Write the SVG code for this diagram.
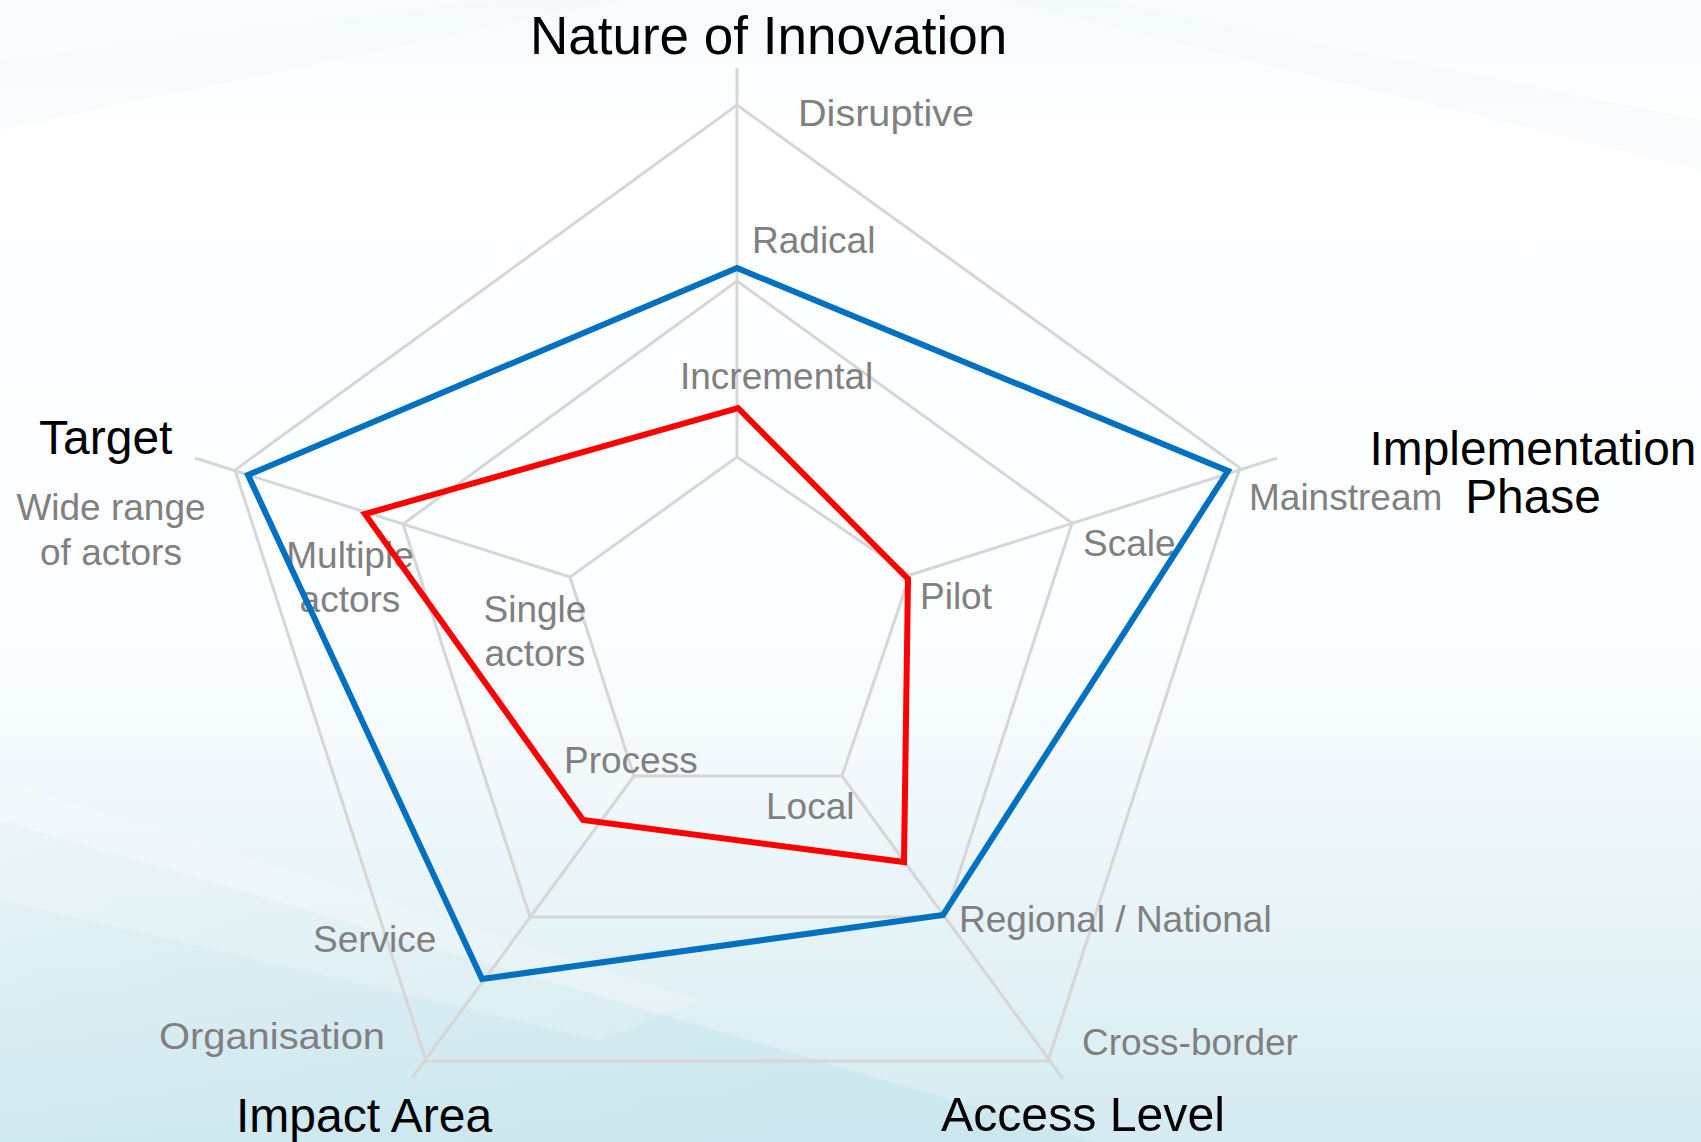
<svg xmlns="http://www.w3.org/2000/svg" width="1701" height="1142" viewBox="0 0 1701 1142">
<defs>
<linearGradient id="bg" x1="0" y1="0" x2="0" y2="1">
<stop offset="0" stop-color="#f7fbfd"/>
<stop offset="0.12" stop-color="#ffffff"/>
<stop offset="0.55" stop-color="#fcfeff"/>
<stop offset="0.72" stop-color="#eef7fa"/>
<stop offset="0.86" stop-color="#e2f1f5"/>
<stop offset="1" stop-color="#d4ebf1"/>
</linearGradient>
<linearGradient id="band" x1="0" y1="0" x2="1" y2="0">
<stop offset="0" stop-color="#bfe0ea" stop-opacity="0.15"/>
<stop offset="0.5" stop-color="#bfe0ea" stop-opacity="0.45"/>
<stop offset="1" stop-color="#bfe0ea" stop-opacity="0.2"/>
</linearGradient>
<style>
.grid{fill:none;stroke:#d6d6d6;stroke-width:3;stroke-linejoin:miter}
.spoke{fill:none;stroke:#d6d6d6;stroke-width:3;stroke-linecap:butt}
.series{fill:none;stroke-width:6;stroke-linejoin:miter}
.axis{font-family:"Liberation Sans",Arial,sans-serif;fill:#000000}
.lvl{font-family:"Liberation Sans",Arial,sans-serif;fill:#808080;font-size:37px}
</style>
</defs>
<g id="background">
<rect x="0" y="0" width="1701" height="1142" fill="url(#bg)"/>
<polygon points="0,820 1701,1320 1701,1142 0,1142" fill="url(#band)"/>
<polygon points="0,780 0,900 600,1040 700,1000" fill="#ffffff" fill-opacity="0.2"/>
<polygon points="0,60 500,0 620,0 0,130" fill="#f0f6fa" fill-opacity="0.35"/>
<polygon points="1100,0 1701,120 1701,170 1000,0" fill="#f0f6fa" fill-opacity="0.3"/>
</g>
<g id="grid">
<polygon class="grid" points="737,105 1240,468 1048,1061 426,1061 235,470"/>
<polygon class="grid" points="737,281 1072,523 945,917 530,917 403,524"/>
<polygon class="grid" points="737,457 910,575 842,776 634,776 570,577"/>
<line class="spoke" x1="737" y1="457" x2="737" y2="68"/>
<line class="spoke" x1="910" y1="575" x2="1277" y2="458"/>
<line class="spoke" x1="842" y1="776" x2="1063" y2="1079"/>
<line class="spoke" x1="634" y1="776" x2="412" y2="1078"/>
<line class="spoke" x1="570" y1="577" x2="195" y2="458"/>
</g>
<g id="axis-nature">
<text class="axis" x="530" y="54" font-size="53">Nature of Innovation</text>
<text class="lvl" x="798" y="126" font-size="40" textLength="176" lengthAdjust="spacingAndGlyphs">Disruptive</text>
<text class="lvl" x="752" y="253">Radical</text>
<text class="lvl" x="680" y="389">Incremental</text>
</g>
<g id="axis-implementation">
<text class="axis" x="1533" y="465" font-size="47.8" text-anchor="middle">Implementation</text>
<text class="axis" x="1533" y="513" font-size="47.8" text-anchor="middle">Phase</text>
<text class="lvl" x="1249" y="510">Mainstream</text>
<text class="lvl" x="1083" y="556">Scale</text>
<text class="lvl" x="920" y="609">Pilot</text>
</g>
<g id="axis-access">
<text class="axis" x="941" y="1131" font-size="48.2">Access Level</text>
<text class="lvl" x="1082" y="1055" font-size="37.4">Cross-border</text>
<text class="lvl" x="959" y="932" font-size="37.3">Regional / National</text>
<text class="lvl" x="766" y="819">Local</text>
</g>
<g id="axis-impact">
<text class="axis" x="236" y="1132" font-size="48">Impact Area</text>
<text class="lvl" x="159" y="1049" font-size="39.7" textLength="226" lengthAdjust="spacingAndGlyphs">Organisation</text>
<text class="lvl" x="313" y="952" font-size="37.4">Service</text>
<text class="lvl" x="564" y="773">Process</text>
</g>
<g id="axis-target">
<text class="axis" x="39" y="454" font-size="48">Target</text>
<text class="lvl" x="111" y="520" text-anchor="middle">Wide range</text>
<text class="lvl" x="111" y="565" text-anchor="middle">of actors</text>
<text class="lvl" x="350" y="568" text-anchor="middle">Multiple</text>
<text class="lvl" x="350" y="612" text-anchor="middle">actors</text>
<text class="lvl" x="535" y="622" text-anchor="middle">Single</text>
<text class="lvl" x="535" y="666" text-anchor="middle">actors</text>
</g>
<g id="connectors">
<polygon id="series-blue" class="series" stroke="#0070c0" points="737,268 1228,471 943,915 482,979 248,475"/>
<polygon id="series-red" class="series" stroke="#ff0000" points="738,408 908,579 904,862 583,820 365,514"/>
</g>
</svg>
